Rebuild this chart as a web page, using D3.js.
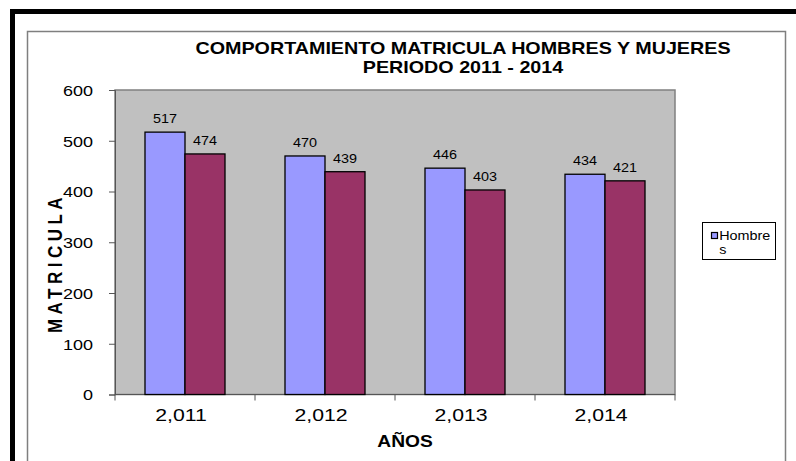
<!DOCTYPE html>
<html>
<head>
<meta charset="utf-8">
<script src="https://cdn.jsdelivr.net/npm/d3@7.9.0/dist/d3.min.js"></script>
<style>
  body { margin: 0; background: #fff; }
  svg { display: block; font-family: Arial, "Liberation Sans", sans-serif; }
</style>
</head>
<body>
<div id="chart"></div>
<script>
const years = ['2,011', '2,012', '2,013', '2,014'];
const hombres = [517, 470, 446, 434];
const mujeres = [474, 439, 403, 421];
const seriesNames = ['Hombres', 'Mujeres'];
const yTicks = [0, 100, 200, 300, 400, 500, 600];
const titleLines = ['COMPORTAMIENTO MATRICULA HOMBRES Y MUJERES', 'PERIODO 2011 - 2014'];

const width = 796;
const height = 461;
const colors = { Hombres: '#9999FF', Mujeres: '#993366' };

const svg = d3.select('#chart')
  .append('svg')
  .attr('width', width)
  .attr('height', height);

// text in the original is stretched sideways a bit
function placeText(sel, x, y, sx) {
  sel.attr('transform', `translate(${x},${y}) scale(${sx},1)`);
}

// outer thick frame and inner chart frame
svg.append('rect')
  .attr('x', 12.5).attr('y', 11.5)
  .attr('width', 800).attr('height', 500)
  .attr('fill', 'none').attr('stroke', '#000').attr('stroke-width', 5);

svg.append('rect')
  .attr('x', 27.5).attr('y', 31.5)
  .attr('width', 758).attr('height', 460)
  .attr('fill', 'none').attr('stroke', '#7f7f7f').attr('stroke-width', 1.5);

const plot = { left: 115, right: 675, top: 90, bottom: 394.5 };

const x = d3.scaleBand()
  .domain(years)
  .range([plot.left, plot.right])
  .paddingInner(60 / 140)
  .paddingOuter(30 / 140);

const xSub = d3.scaleBand()
  .domain(seriesNames)
  .range([0, x.bandwidth()]);

const y = d3.scaleLinear()
  .domain([0, 600])
  .range([plot.bottom, plot.top]);

// plot area
svg.append('rect')
  .attr('x', plot.left).attr('y', plot.top)
  .attr('width', plot.right - plot.left)
  .attr('height', plot.bottom - plot.top)
  .attr('fill', '#C0C0C0')
  .attr('stroke', '#808080')
  .attr('stroke-width', 1.5);

// y axis
const yAxis = svg.append('g')
  .attr('transform', `translate(${plot.left},0)`)
  .call(d3.axisLeft(y).tickValues(yTicks).tickSize(6).tickFormat(''));
yAxis.select('.domain').attr('stroke', '#555');
yAxis.selectAll('.tick line').attr('stroke', '#555');

svg.append('g').selectAll('text')
  .data(yTicks)
  .join('text')
  .attr('text-anchor', 'end')
  .attr('dominant-baseline', 'central')
  .attr('font-size', 15)
  .attr('fill', '#000')
  .text(d => d)
  .each(function (d) { placeText(d3.select(this), 93, y(d) + 1, 1.2); });

// x axis with ticks on category boundaries
const boundaries = d3.range(years.length + 1).map(i => plot.left + i * x.step());
svg.append('line')
  .attr('x1', plot.left).attr('x2', plot.right)
  .attr('y1', plot.bottom).attr('y2', plot.bottom)
  .attr('stroke', '#555');
svg.append('g').selectAll('line')
  .data(boundaries)
  .join('line')
  .attr('x1', d => d).attr('x2', d => d)
  .attr('y1', plot.bottom).attr('y2', plot.bottom + 6)
  .attr('stroke', '#555');

svg.append('g').selectAll('text')
  .data(years)
  .join('text')
  .attr('text-anchor', 'middle')
  .attr('font-size', 17)
  .text(d => d)
  .each(function (d) { placeText(d3.select(this), x(d) + x.bandwidth() / 2 - 4, 421, 1.25); });

// bars
const rows = years.map((yr, i) => ({ year: yr, Hombres: hombres[i], Mujeres: mujeres[i] }));

const groups = svg.append('g').selectAll('g')
  .data(rows)
  .join('g')
  .attr('transform', d => `translate(${x(d.year)},0)`);

groups.selectAll('rect')
  .data(d => seriesNames.map(k => ({ key: k, value: d[k] })))
  .join('rect')
  .attr('x', d => xSub(d.key))
  .attr('y', d => y(d.value))
  .attr('width', xSub.bandwidth())
  .attr('height', d => y(0) - y(d.value))
  .attr('fill', d => colors[d.key])
  .attr('stroke', '#000')
  .attr('stroke-width', 1.3);

groups.selectAll('text')
  .data(d => seriesNames.map(k => ({ key: k, value: d[k] })))
  .join('text')
  .attr('text-anchor', 'middle')
  .attr('font-size', 12)
  .attr('fill', '#000')
  .text(d => d.value)
  .each(function (d) { placeText(d3.select(this), xSub(d.key) + xSub.bandwidth() / 2, y(d.value) - 9, 1.2); });

// titles
svg.append('g').selectAll('text')
  .data(titleLines)
  .join('text')
  .attr('text-anchor', 'middle')
  .attr('font-size', 16.5)
  .attr('font-weight', 'bold')
  .text(d => d)
  .each(function (d, i) { placeText(d3.select(this), 463, 54 + i * 18.5, 1.195); });

const xTitle = svg.append('text')
  .attr('text-anchor', 'middle')
  .attr('font-size', 16)
  .attr('font-weight', 'bold')
  .text('AÑOS');
placeText(xTitle, 405, 447, 1.2);

const yTitle = svg.append('text')
  .attr('text-anchor', 'middle')
  .attr('font-size', 17)
  .attr('font-weight', 'bold')
  .attr('letter-spacing', 4.5)
  .text('MATRICULA');
yTitle.attr('transform', 'translate(62,263) scale(1.2,1) rotate(-90)');

// legend (only Hombres shown, label wraps)
const legend = svg.append('g').attr('transform', 'translate(702.5,222.5)');
legend.append('rect')
  .attr('width', 73).attr('height', 37)
  .attr('fill', '#fff').attr('stroke', '#000');
legend.append('rect')
  .attr('x', 9).attr('y', 10)
  .attr('width', 6).attr('height', 6)
  .attr('fill', colors.Hombres).attr('stroke', '#000').attr('stroke-width', 1.2);
const legText = legend.append('text')
  .attr('font-size', 12.5);
legText.append('tspan').attr('x', 14.5).attr('y', 18).text(seriesNames[0].slice(0, 6));
legText.append('tspan').attr('x', 14.5).attr('y', 32).text(seriesNames[0].slice(6));
placeText(legText, 0, 0, 1.15);
</script>
</body>
</html>
